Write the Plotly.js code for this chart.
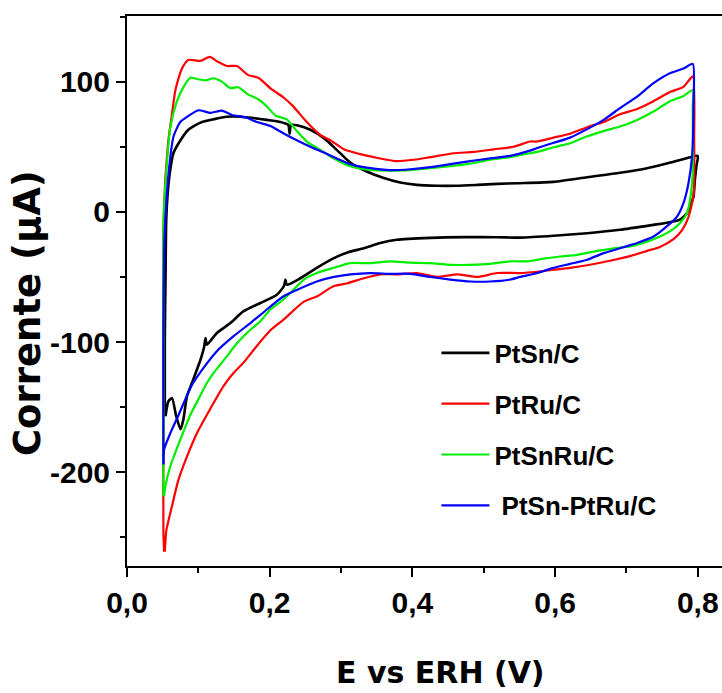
<!DOCTYPE html>
<html>
<head>
<meta charset="utf-8">
<script src="https://cdn.plot.ly/plotly-3.0.1.min.js"></script>
<style>html,body{margin:0;padding:0;background:#fff;}#chart{width:722px;height:693px;}</style>
</head>
<body>
<div id="chart"></div>
<script>
// Series names
const seriesNames = ["PtSn/C", "PtRu/C", "PtSnRu/C", " PtSn-PtRu/C"];
const seriesColors = ["#000000", "#ff0000", "#00ee00", "#0000ff"];

// PtSn/C (black) – potential (V) and current (µA), one CV loop
const ptSnX = [0.053,0.053,0.054,0.055,0.057,0.060,0.065,0.075,0.086,0.103,0.121,0.140,0.159,0.177,0.196,0.215,0.226,0.228,0.230,0.238,0.257,0.276,0.294,0.313,0.336,0.360,0.383,0.406,0.434,0.462,0.491,0.519,0.547,0.598,0.645,0.691,0.729,0.761,0.790,0.800,0.798,0.796,0.794,0.789,0.785,0.775,0.761,0.738,0.691,0.645,0.598,0.551,0.519,0.472,0.425,0.378,0.355,0.332,0.310,0.290,0.266,0.243,0.224,0.222,0.220,0.210,0.187,0.163,0.145,0.126,0.112,0.110,0.108,0.103,0.091,0.084,0.079,0.075,0.069,0.063,0.058,0.054];
const ptSnY = [-157,-100,-50,-6,14,30,45,55,63,68.5,71,73,73,72,70.6,69,66.8,60,66.8,66.5,63,56.6,47.6,37.8,31,26,22.5,20.7,20,20,20.7,21.5,22,23,26.6,30,33.5,37.8,42,43,34.8,24.6,11.7,4,-1,-6,-8,-10,-13.8,-16.4,-18.4,-19.8,-19.5,-19.4,-20,-21.5,-24,-28,-31,-35.5,-43,-51,-56,-52,-57,-63.7,-70,-76.5,-85.4,-93,-102,-97,-104,-113.6,-131.5,-141.7,-159.6,-167,-157,-143,-145.6,-157];

// PtRu/C (red)
const ptRuX = [0.052,0.051,0.051,0.051,0.051,0.0513,0.0537,0.056,0.058,0.063,0.068,0.077,0.086,0.103,0.116,0.128,0.140,0.154,0.170,0.184,0.203,0.219,0.233,0.252,0.271,0.285,0.304,0.322,0.346,0.376,0.402,0.425,0.458,0.486,0.514,0.542,0.565,0.575,0.598,0.621,0.645,0.668,0.691,0.715,0.738,0.761,0.780,0.793,0.795,0.795,0.794,0.787,0.778,0.766,0.747,0.729,0.705,0.682,0.645,0.621,0.598,0.575,0.551,0.519,0.491,0.463,0.434,0.406,0.378,0.355,0.332,0.308,0.290,0.266,0.248,0.219,0.201,0.182,0.163,0.149,0.135,0.117,0.098,0.084,0.072,0.063,0.055,0.054,0.053];
const ptRuY = [-261,-245,-150,-70,-20,-6,25,42,55,75,94,110,116.7,116,119,115,112,112,105,103,94,88,81,69,59,55,48,45,42,39,40,42,45,46,48,50,54,54,57,60,65,69,75,79,85,92,96,104,55,25,12,-4,-14,-21,-27,-30,-34,-37,-41,-43,-44.5,-46,-47,-47,-50,-48,-50,-47,-48,-48,-51,-55,-57,-65,-69,-83,-91,-103,-116,-124,-134,-151,-170,-188,-206,-226,-245,-252,-261];

// PtSnRu/C (green)
const ptSnRuX = [0.051,0.051,0.0513,0.0549,0.0607,0.070,0.0793,0.0887,0.098,0.110,0.121,0.133,0.145,0.156,0.170,0.184,0.196,0.208,0.224,0.238,0.252,0.271,0.290,0.313,0.346,0.369,0.397,0.425,0.453,0.481,0.509,0.537,0.565,0.575,0.598,0.621,0.645,0.668,0.691,0.715,0.738,0.761,0.780,0.793,0.793,0.793,0.790,0.785,0.775,0.761,0.747,0.729,0.705,0.682,0.654,0.631,0.607,0.584,0.561,0.537,0.509,0.481,0.453,0.425,0.397,0.369,0.341,0.313,0.290,0.266,0.248,0.233,0.219,0.201,0.187,0.173,0.154,0.140,0.121,0.112,0.100,0.0887,0.0747,0.0607,0.0537,0.052];
const ptSnRuY = [-218,-100,-6,30,65,85,96,103,102,101,102.6,100,95,95.7,90,86.5,81,74,71,62,54,47.6,41,35,32,31.7,32,33.5,35,37,40,42,45,46,49.6,52.7,58,62,65.5,70.6,77,85,89,93.6,81,30,12,-1,-8.7,-15,-19,-23,-26.6,-28,-30.5,-33,-34.3,-36,-38,-38,-40,-40.7,-40.7,-39.4,-39,-38,-39.4,-39.4,-43,-47,-52,-60,-67.5,-75,-84,-90.6,-101,-111,-124,-131.5,-144,-156,-175,-195.5,-211,-218.5];

// PtSn-PtRu/C (blue)
const ptSnPtRuX = [0.051,0.051,0.052,0.0537,0.0583,0.0653,0.0747,0.0863,0.100,0.117,0.133,0.147,0.166,0.182,0.201,0.219,0.238,0.257,0.276,0.294,0.313,0.341,0.369,0.397,0.425,0.453,0.481,0.509,0.537,0.565,0.575,0.598,0.621,0.645,0.668,0.691,0.715,0.738,0.761,0.780,0.793,0.794,0.792,0.787,0.780,0.771,0.757,0.738,0.715,0.691,0.668,0.645,0.621,0.598,0.575,0.551,0.537,0.509,0.481,0.453,0.425,0.397,0.369,0.341,0.313,0.290,0.266,0.238,0.219,0.196,0.173,0.149,0.126,0.107,0.091,0.0817,0.0723,0.0607,0.052,0.0513];
const ptSnPtRuY = [-194,-100,-30,-6,30,58,69,73.7,78,76,77.7,74.4,72.7,69,66,60.4,55,50,45.5,41,36.5,33.5,32,32.7,34.3,36.6,39,41,43,47,49,53,57,63.5,70.6,79.6,88.5,98.8,106.4,110,113.6,81,42.4,22,6.7,-3.6,-11,-19,-24,-28,-31.7,-36.8,-40,-43,-47,-50,-52,-53.5,-53.5,-52,-50,-47.6,-47.6,-47,-48,-50,-53.5,-60,-65,-75,-85.4,-95.7,-107,-120,-133,-144,-156,-170,-182.6,-194];

// Tick values and labels
const xTickVals = [0, 0.2, 0.4, 0.6, 0.8];
const xTickText = ["0,0", "0,2", "0,4", "0,6", "0,8"];
const yTickVals = [-200, -100, 0, 100];
const yTickText = ["-200", "-100", "0", "100"];

// Axis labels
const xTitle = "E vs ERH (V)";
const yTitle = "Corrente (\u03bcA)";

const xs = [ptSnX, ptRuX, ptSnRuX, ptSnPtRuX];
const ys = [ptSnY, ptRuY, ptSnRuY, ptSnPtRuY];

const traces = seriesNames.map((name, i) => ({
  type: "scatter",
  mode: "lines",
  x: xs[i],
  y: ys[i],
  name: name,
  legendgroup: "g" + i,
  line: {color: seriesColors[i], width: i === 0 ? 2.6 : 2.2, shape: "spline", smoothing: 0.6}
}));

const tickFont = {family: "Liberation Sans, Arial, sans-serif", size: 30, color: "#000", weight: "bold"};
const titleFont = {family: "DejaVu Sans, sans-serif", color: "#000", weight: "bold"};

const layout = {
  width: 722,
  height: 693,
  margin: {l: 127, r: 0, t: 16, b: 127},
  paper_bgcolor: "#fff",
  plot_bgcolor: "#fff",
  showlegend: true,
  legend: {
    x: 0.52, y: 0.43, xanchor: "left", yanchor: "top",
    bgcolor: "rgba(0,0,0,0)", borderwidth: 0,
    tracegroupgap: 14,
    itemwidth: 48,
    font: {family: "Liberation Sans, Arial, sans-serif", size: 26, color: "#000", weight: "bold"}
  },
  xaxis: {
    range: [0, 0.834],
    tickvals: xTickVals, ticktext: xTickText,
    ticks: "outside", ticklen: 9, tickwidth: 2, tickcolor: "#000",
    minor: {dtick: 0.1, tick0: 0, ticks: "outside", ticklen: 5, tickwidth: 2, tickcolor: "#000"},
    showline: true, linewidth: 2, linecolor: "#000", mirror: true,
    showgrid: false, zeroline: false,
    tickfont: tickFont
  },
  yaxis: {
    range: [-272, 150.4],
    tickvals: yTickVals, ticktext: yTickText,
    ticks: "outside", ticklen: 9, tickwidth: 2, tickcolor: "#000",
    minor: {dtick: 50, tick0: 0, ticks: "outside", ticklen: 5, tickwidth: 2, tickcolor: "#000"},
    showline: true, linewidth: 2, linecolor: "#000", mirror: false,
    showgrid: false, zeroline: false,
    tickfont: tickFont
  },
  annotations: [
    {text: xTitle, xref: "paper", yref: "paper", x: 0.5277, y: -0.1935,
     xanchor: "center", yanchor: "middle", showarrow: false,
     font: Object.assign({size: 30}, titleFont)},
    {text: yTitle, xref: "paper", yref: "paper", x: -0.1672, y: 0.459,
     xanchor: "center", yanchor: "middle", showarrow: false, textangle: -90,
     font: Object.assign({size: 37}, titleFont)}
  ]
};

Plotly.newPlot("chart", traces, layout, {displayModeBar: false, staticPlot: true});
</script>
</body>
</html>
